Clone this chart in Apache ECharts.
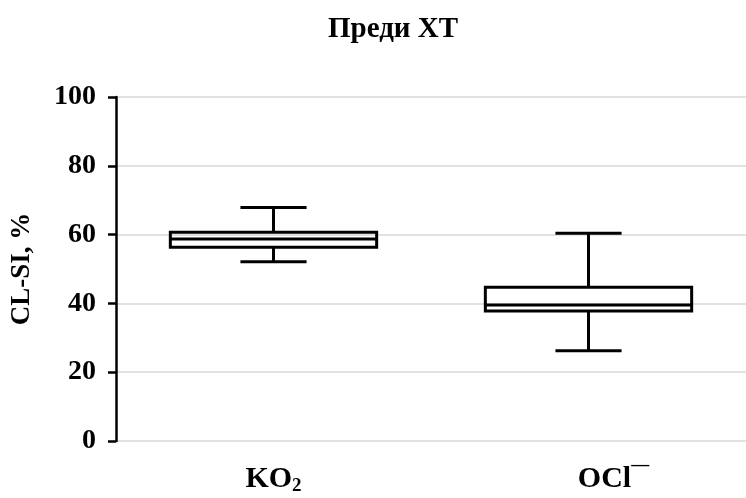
<!DOCTYPE html>
<html>
<head>
<meta charset="utf-8">
<script src="https://cdn.jsdelivr.net/npm/echarts@6/dist/echarts.min.js"></script>
<style>html,body{margin:0;padding:0;background:#fff;}#c{width:746px;height:498px;}</style>
</head>
<body>
<div id="c"></div>
<script>
const categories = ['KO2', 'OCl-'];
const whiskerMin = [52.1, 26.2];
const quartile1 = [56.3, 37.8];
const medians = [58.7, 39.5];
const quartile3 = [60.7, 44.7];
const whiskerMax = [67.9, 60.4];
const yTicks = [0, 20, 40, 60, 80, 100];

const serif = '"Liberation Serif", "DejaVu Serif", serif';
const boxData = categories.map((c, i) => [i, whiskerMin[i], quartile1[i], medians[i], quartile3[i], whiskerMax[i]]);

const chart = echarts.init(document.getElementById('c'));
chart.setOption({
  animation: false,
  backgroundColor: '#fff',
  title: {
    text: 'Преди ХТ',
    left: 388, top: 10, textAlign: 'center',
    textStyle: { fontFamily: serif, fontWeight: 'bold', fontSize: 29, color: '#000' }
  },
  grid: { left: 116, right: -4, top: 97, bottom: 57 },
  xAxis: {
    type: 'category',
    data: categories,
    axisLine: { show: false },
    axisTick: { show: false },
    splitLine: { show: false },
    axisLabel: {
      margin: 15,
      color: '#000',
      formatter: v => v === 'KO2' ? '{h|}{a|KO}{sub|2}' : '{h|}{sp|}{a|OCl}{sup|—}',
      rich: {
        a: { fontFamily: serif, fontWeight: 'bold', fontSize: 30, color: '#000' },
        sub: { fontFamily: serif, fontWeight: 'bold', fontSize: 19, color: '#000', padding: [14, 0, 0, 0] },
        sup: { fontFamily: serif, fontWeight: 'bold', fontSize: 18, color: '#000', padding: [0, 0, 28, 0] },
        sp: { width: 50 },
        h: { width: 0, height: 46 }
      }
    }
  },
  yAxis: {
    type: 'value',
    min: 0, max: 100, interval: 20,
    name: 'CL-SI, %',
    nameLocation: 'middle',
    nameGap: 80,
    nameRotate: 90,
    nameTextStyle: { fontFamily: serif, fontWeight: 'bold', fontSize: 27, color: '#000' },
    axisLine: { show: true, lineStyle: { color: '#000', width: 2.5 } },
    axisTick: { show: true, inside: false, length: 8, lineStyle: { color: '#000', width: 2.5 } },
    axisLabel: {
      margin: 20, color: '#000',
      fontFamily: serif, fontWeight: 'bold', fontSize: 28,
      formatter: v => yTicks.includes(v) ? String(v) : ''
    },
    splitLine: { show: true, lineStyle: { color: '#d9d9d9', width: 1.5 } }
  },
  series: [{
    type: 'custom',
    data: boxData,
    encode: { x: 0, y: [1, 2, 3, 4, 5] },
    renderItem: function (params, api) {
      const idx = api.value(0);
      const band = api.size([1, 0])[0];
      const bw = band * 0.655;
      const cw = band * 0.21;
      const pMin = api.coord([idx, api.value(1)]);
      const pQ1 = api.coord([idx, api.value(2)]);
      const pMed = api.coord([idx, api.value(3)]);
      const pQ3 = api.coord([idx, api.value(4)]);
      const pMax = api.coord([idx, api.value(5)]);
      const x = pMed[0];
      const st = { stroke: '#000', lineWidth: 3, fill: null };
      return {
        type: 'group',
        children: [
          { type: 'line', shape: { x1: x, y1: pQ3[1], x2: x, y2: pMax[1] }, style: st },
          { type: 'line', shape: { x1: x, y1: pQ1[1], x2: x, y2: pMin[1] }, style: st },
          { type: 'line', shape: { x1: x - cw / 2, y1: pMax[1], x2: x + cw / 2, y2: pMax[1] }, style: st },
          { type: 'line', shape: { x1: x - cw / 2, y1: pMin[1], x2: x + cw / 2, y2: pMin[1] }, style: st },
          { type: 'rect', shape: { x: x - bw / 2, y: pQ3[1], width: bw, height: pQ1[1] - pQ3[1] }, style: { stroke: '#000', lineWidth: 3, fill: 'rgba(255,255,255,0)' } },
          { type: 'line', shape: { x1: x - bw / 2, y1: pMed[1], x2: x + bw / 2, y2: pMed[1] }, style: st }
        ]
      };
    }
  }]
});
</script>
</body>
</html>
